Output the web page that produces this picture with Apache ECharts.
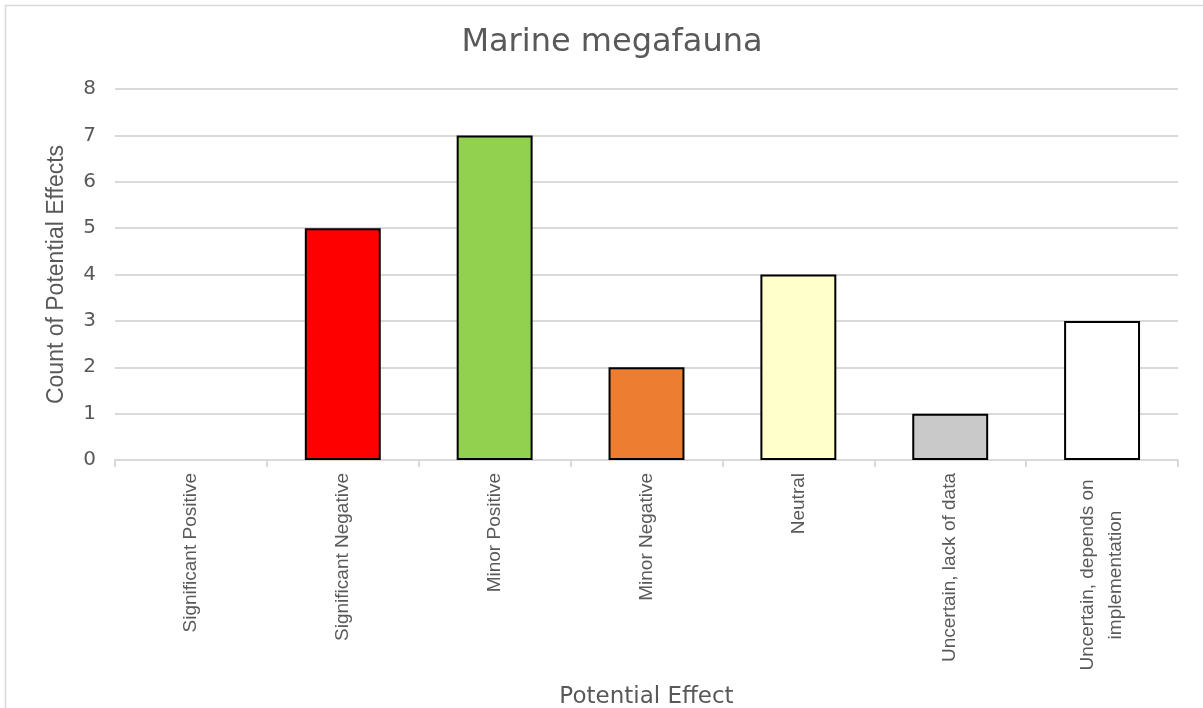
<!DOCTYPE html>
<html>
<head>
<meta charset="utf-8">
<script src="https://cdn.jsdelivr.net/npm/echarts@6/dist/echarts.min.js"></script>
<style>
  html, body { margin: 0; padding: 0; background: #fff; }
  #chart { width: 1203px; height: 708px; }
</style>
</head>
<body>
<div id="chart"></div>
<script>
// Potential effects on marine megafauna
const categories = [
  'Significant Positive',
  'Significant Negative',
  'Minor Positive',
  'Minor Negative',
  'Neutral',
  'Uncertain, lack of data',
  'Uncertain, depends on\nimplementation'
];
const counts = [0, 5, 7, 2, 4, 1, 3];
const barColors = ['#5B9BD5', '#FF0000', '#92D050', '#ED7D31', '#FFFFCC', '#C9C9C9', '#FFFFFF'];
const yTicks = [0, 1, 2, 3, 4, 5, 6, 7, 8];

const WIDE = '"DejaVu Sans", sans-serif';
const NARROW = '"Liberation Sans", Arial, sans-serif';
const TEXT = '#595959';
const LINE = '#d9d9d9';

const chart = echarts.init(document.getElementById('chart'), null, { renderer: 'canvas' });

chart.setOption({
  animation: false,
  backgroundColor: '#fff',
  graphic: [
    {
      type: 'rect',
      shape: { x: 5.5, y: 5.5, width: 1230, height: 740 },
      style: { fill: 'none', stroke: LINE, lineWidth: 1.5 },
      silent: true
    }
  ],
  title: {
    text: 'Marine megafauna',
    left: 607,
    textAlign: 'center',
    top: 22,
    textStyle: { fontFamily: WIDE, fontSize: 32, fontWeight: 'normal', color: TEXT }
  },
  grid: { left: 115, right: 25, top: 89, bottom: 248, outerBoundsMode: 'none', containLabel: false },
  xAxis: {
    type: 'category',
    data: categories,
    name: 'Potential Effect',
    nameLocation: 'middle',
    nameGap: 226,
    nameTextStyle: { fontFamily: WIDE, fontSize: 23, color: TEXT },
    axisLine: { lineStyle: { color: LINE, width: 2 } },
    axisTick: { show: true, alignWithLabel: false, length: 7, lineStyle: { color: LINE, width: 2 } },
    axisLabel: {
      interval: 0,
      rotate: 90,
      margin: 13,
      fontFamily: NARROW,
      fontSize: 19,
      color: TEXT,
      lineHeight: 28,
      align: 'right',
      verticalAlign: 'middle',
      formatter: v => v.includes('\n')
        ? v.split('\n').map(s => '{w|' + s + '}').join('\n')
        : v,
      rich: {
        w: { width: 204, align: 'center', fontFamily: NARROW, fontSize: 19, color: TEXT, lineHeight: 28 }
      }
    },
    splitLine: { show: false }
  },
  yAxis: {
    type: 'value',
    min: yTicks[0],
    max: yTicks[yTicks.length - 1],
    interval: 1,
    name: 'Count of Potential Effects',
    nameLocation: 'middle',
    nameGap: 47,
    nameRotate: 90,
    nameTextStyle: { fontFamily: NARROW, fontSize: 23, color: TEXT },
    axisLine: { show: false },
    axisTick: { show: false },
    axisLabel: { fontFamily: WIDE, fontSize: 20, color: TEXT, margin: 19 },
    splitLine: { lineStyle: { color: LINE, width: 2 } }
  },
  series: [
    {
      type: 'bar',
      barWidth: '50%',
      data: counts.map((v, i) => ({
        value: v,
        itemStyle: { color: barColors[i], borderColor: '#000', borderWidth: v > 0 ? 2 : 0 }
      }))
    }
  ]
});
</script>
</body>
</html>
